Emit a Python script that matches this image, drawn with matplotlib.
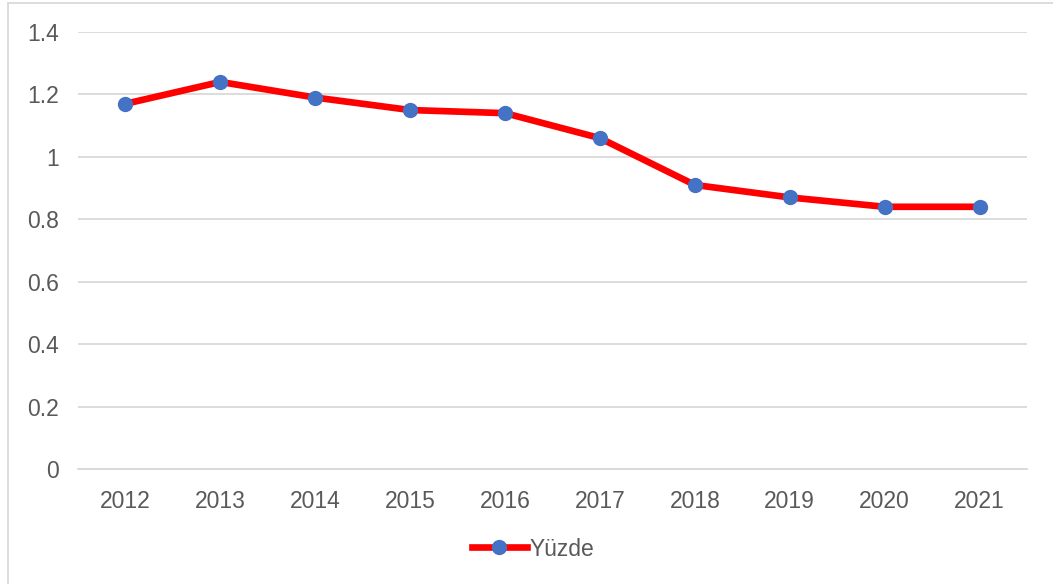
import numpy as np
import matplotlib.pyplot as plt
from matplotlib.patches import Rectangle

years = ['2012', '2013', '2014', '2015', '2016', '2017', '2018', '2019', '2020', '2021']
yuzde = [1.17, 1.24, 1.19, 1.15, 1.14, 1.06, 0.91, 0.87, 0.84, 0.84]
yticks = [0, 0.2, 0.4, 0.6, 0.8, 1, 1.2, 1.4]
ylabels = ['0', '0.2', '0.4', '0.6', '0.8', '1', '1.2', '1.4']

plt.rcParams['font.family'] = ['Liberation Sans', 'DejaVu Sans']
W, H = 1053, 584
fig = plt.figure(figsize=(W / 100, H / 100), dpi=100)
ax = fig.add_axes([78 / W, 1 - 469 / H, (1027 - 78) / W, (469 - 32) / H])

x = np.arange(len(years))
ax.plot(x, yuzde, color='#ff0000', lw=4.8, marker='o', ms=10,
        mfc='#4472c4', mec='#4472c4', label='Yüzde', zorder=3)

ax.set_xlim(-0.5, len(years) - 0.5)
ax.set_ylim(0, 1.4)
ax.set_yticks(yticks)
ax.set_yticklabels(ylabels)
ax.set_xticks(x)
ax.set_xticklabels(years)
ax.grid(axis='y', color='#d9d9d9', lw=1.3)
ax.set_axisbelow(True)
for s in ['top', 'right', 'left']:
    ax.spines[s].set_visible(False)
ax.spines['bottom'].set_color('#d9d9d9')
ax.spines['bottom'].set_linewidth(1.3)
ax.tick_params(length=0, labelsize=16.5, labelcolor='#595959')
ax.tick_params(axis='x', pad=15)
ax.tick_params(axis='y', pad=14)

fig.legend(loc='center', bbox_to_anchor=(533 / W, 1 - 549 / H), frameon=False,
           fontsize=16.5, labelcolor='#595959', handlelength=2.4, handletextpad=0.1)

fig.patches.append(Rectangle((8 / W, -0.05), 1.1, 1 - 3 / H + 0.05, transform=fig.transFigure,
                             fill=False, edgecolor='#d9d9d9', lw=1.3))

plt.savefig('out.png', dpi=100)
